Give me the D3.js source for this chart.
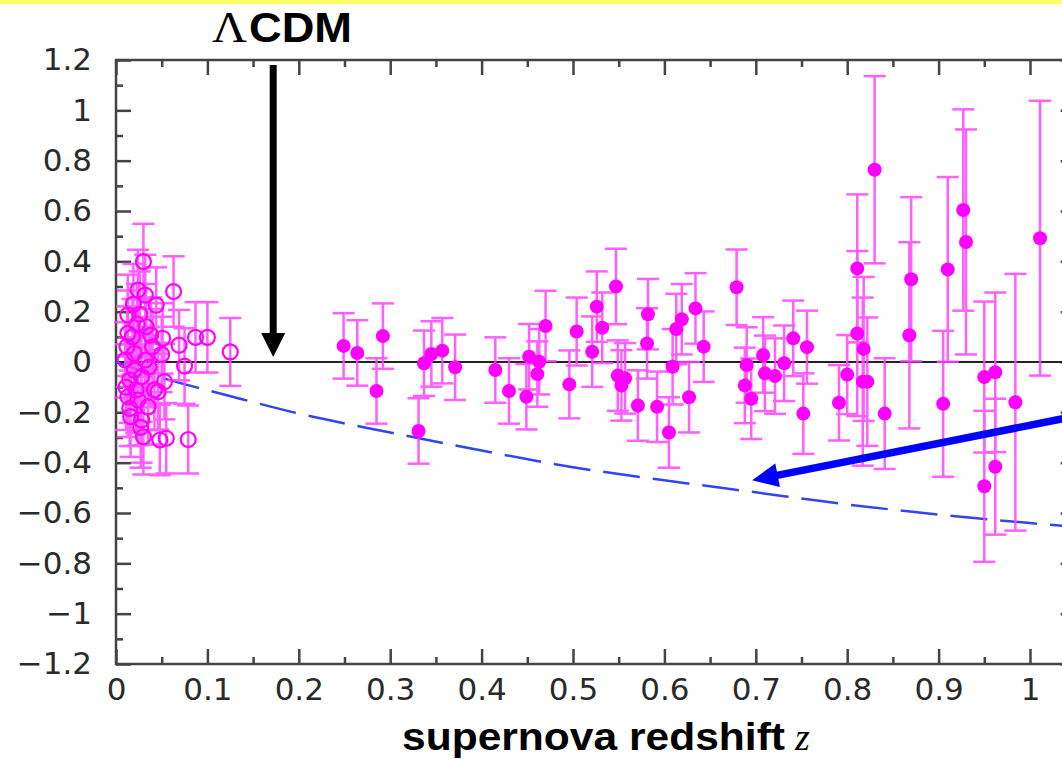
<!DOCTYPE html>
<html>
<head>
<meta charset="utf-8">
<script src="https://cdn.jsdelivr.net/npm/d3@7"></script>
<style>
  html, body { margin: 0; padding: 0; background: #ffffff; }
  svg { display: block; }
</style>
</head>
<body>
<script>
// ---------------- data ----------------
// low-redshift supernovae (open circles)
const lowZ   = [0.030, 0.063, 0.044, 0.024, 0.013, 0.051, 0.038, 0.069, 0.013, 0.012,
                0.020, 0.032, 0.015, 0.053, 0.042, 0.013, 0.024, 0.015, 0.028, 0.030,
                0.048, 0.055, 0.020, 0.028, 0.032, 0.033, 0.010, 0.022, 0.035, 0.016,
                0.125, 0.100, 0.087, 0.075, 0.079, 0.046, 0.026, 0.018, 0.036, 0.050,
                0.019, 0.027, 0.040, 0.011, 0.023];
const lowVal = [0.399, 0.280, 0.226, 0.286, 0.187, 0.094, 0.107, 0.067, 0.114, 0.061,
                0.034, 0.008, -0.072, -0.078, -0.111, -0.138, -0.151, -0.184, -0.230, -0.297,
                -0.310, -0.303, -0.032, -0.058, 0.266, 0.140, 0.008, -0.111, -0.178, -0.217,
                0.040, 0.098, 0.098, -0.016, -0.308, -0.118, 0.190, 0.100, -0.020, 0.030,
                0.230, -0.260, 0.060, -0.100, 0.150];
const lowErr = [0.15, 0.14, 0.15, 0.16, 0.16, 0.14, 0.15, 0.14, 0.17, 0.16,
                0.18, 0.17, 0.17, 0.15, 0.16, 0.16, 0.18, 0.15, 0.17, 0.15,
                0.14, 0.14, 0.16, 0.18, 0.16, 0.17, 0.15, 0.17, 0.15, 0.16,
                0.135, 0.14, 0.14, 0.15, 0.135, 0.15, 0.17, 0.15, 0.16, 0.15,
                0.16, 0.16, 0.15, 0.17, 0.16];

// high-redshift supernovae (filled circles)
const hiZ   = [0.249, 0.264, 0.292, 0.285, 0.331, 0.337, 0.345, 0.357, 0.371,
               0.415, 0.430, 0.449, 0.452, 0.461, 0.463, 0.470, 0.496, 0.504, 0.521,
               0.526, 0.532, 0.547, 0.549, 0.553, 0.557, 0.571, 0.582, 0.581, 0.592,
               0.605, 0.609, 0.613, 0.619, 0.627, 0.634, 0.643, 0.679, 0.690, 0.688,
               0.695, 0.708, 0.710, 0.721, 0.731, 0.741, 0.752, 0.756, 0.791, 0.800,
               0.811, 0.811, 0.818, 0.817, 0.822, 0.830, 0.841, 0.870, 0.868, 0.910,
               0.905, 0.927, 0.930, 0.950, 0.962, 0.950, 0.962, 0.984, 1.011];
const hiVal = [0.064, 0.036, 0.103, -0.115, -0.274, -0.005, 0.032, 0.045, -0.021,
               -0.032, -0.115, -0.138, 0.021, -0.048, 0.001, 0.143, -0.089, 0.121, 0.041,
               0.220, 0.136, 0.300, -0.054, -0.093, -0.065, -0.173, 0.190, 0.074, -0.178,
               -0.280, -0.019, 0.131, 0.170, -0.140, 0.213, 0.061, 0.297, -0.012, -0.093,
               -0.146, 0.028, -0.045, -0.056, -0.005, 0.094, -0.205, 0.059, -0.162, -0.050,
               0.372, 0.113, 0.052, -0.078, -0.078, 0.764, -0.205, 0.329, 0.106, 0.368,
               -0.166, 0.604, 0.477, -0.060, -0.041, -0.494, -0.416, -0.160, 0.492];
const hiErr = [0.13, 0.13, 0.13, 0.13, 0.13, 0.13, 0.13, 0.13, 0.13,
               0.13, 0.13, 0.13, 0.13, 0.13, 0.13, 0.14, 0.135, 0.135, 0.14,
               0.14, 0.14, 0.15, 0.14, 0.14, 0.14, 0.14, 0.14, 0.14, 0.14,
               0.14, 0.15, 0.14, 0.14, 0.14, 0.14, 0.14, 0.15, 0.15, 0.15,
               0.16, 0.15, 0.15, 0.15, 0.15, 0.15, 0.16, 0.145, 0.15, 0.157,
               0.294, 0.328, 0.286, 0.334, 0.255, 0.372, 0.22, 0.326, 0.37, 0.367,
               0.29, 0.40, 0.447, 0.30, 0.317, 0.30, 0.27, 0.51, 0.546];

// dashed comparison curve
const curveZ   = [0, 0.055, 0.10, 0.14, 0.20, 0.30, 0.40, 0.50, 0.60, 0.70, 0.80, 0.90, 1.00, 1.05];
const curveVal = [0, -0.068, -0.112, -0.150, -0.205, -0.280, -0.352, -0.418, -0.470, -0.518, -0.566, -0.606, -0.640, -0.655];

// axes
const xMajorTicks  = [0, 0.1, 0.2, 0.3, 0.4, 0.5, 0.6, 0.7, 0.8, 0.9, 1.0];
const xTickLabels  = ["0", "0.1", "0.2", "0.3", "0.4", "0.5", "0.6", "0.7", "0.8", "0.9", "1"];
const xMinorTicks  = [0.05, 0.15, 0.25, 0.35, 0.45, 0.55, 0.65, 0.75, 0.85, 0.95, 1.05];
const yMajorTicks  = [-1.2, -1.0, -0.8, -0.6, -0.4, -0.2, 0, 0.2, 0.4, 0.6, 0.8, 1.0, 1.2];
const yTickLabels  = ["\u22121.2", "\u22121", "\u22120.8", "\u22120.6", "\u22120.4", "\u22120.2", "0",
                      "0.2", "0.4", "0.6", "0.8", "1", "1.2"];
const yMinorTicks  = [-1.1, -0.9, -0.7, -0.5, -0.3, -0.1, 0.1, 0.3, 0.5, 0.7, 0.9, 1.1];

const xTitle = "supernova redshift";
const xTitleVar = "z";
const annoLambda = "\u039B";
const annoCDM = "CDM";

// ---------------- drawing ----------------
const W = 1062, H = 759;
const svg = d3.select("body").append("svg").attr("width", W).attr("height", H);
svg.append("rect").attr("width", W).attr("height", H).attr("fill", "#ffffff");
svg.append("rect").attr("x", 0).attr("y", 0).attr("width", W).attr("height", 4).attr("fill", "#ffff66");

const x = d3.scaleLinear().domain([0, 1.05]).range([116, 116 + 914 * 1.05]);
const y = d3.scaleLinear().domain([-1.2, 1.2]).range([664, 60]);

const axisColor = "#444";
const tickFont = "'DejaVu Sans', sans-serif";

function styleAxis(g) {
  g.select(".domain").remove();
  g.selectAll(".tick line").attr("stroke", axisColor).attr("stroke-width", 2.5);
  g.selectAll(".tick text").attr("fill", "#2a2a2a").attr("font-family", tickFont).attr("font-size", 31);
}

// bottom axis
svg.append("g").attr("transform", `translate(0,${y(-1.2)})`)
  .call(d3.axisBottom(x).tickValues(xMajorTicks).tickSize(-15).tickPadding(14)
    .tickFormat((d, i) => xTickLabels[i]))
  .call(styleAxis);
svg.append("g").attr("transform", `translate(0,${y(-1.2)})`)
  .call(d3.axisBottom(x).tickValues(xMinorTicks).tickSize(-7).tickFormat(""))
  .call(styleAxis);
// top axis
svg.append("g").attr("transform", `translate(0,${y(1.2)})`)
  .call(d3.axisTop(x).tickValues(xMajorTicks).tickSize(-15).tickFormat(""))
  .call(styleAxis);
svg.append("g").attr("transform", `translate(0,${y(1.2)})`)
  .call(d3.axisTop(x).tickValues(xMinorTicks).tickSize(-7).tickFormat(""))
  .call(styleAxis);
// left axis
svg.append("g").attr("transform", `translate(${x(0)},0)`)
  .call(d3.axisLeft(y).tickValues(yMajorTicks).tickSize(-15).tickPadding(24)
    .tickFormat((d, i) => yTickLabels[i]))
  .call(styleAxis);
svg.append("g").attr("transform", `translate(${x(0)},0)`)
  .call(d3.axisLeft(y).tickValues(yMinorTicks).tickSize(-7).tickFormat(""))
  .call(styleAxis);
// right axis
svg.append("g").attr("transform", `translate(${x(1.05)},0)`)
  .call(d3.axisRight(y).tickValues(yMajorTicks).tickSize(-15).tickFormat(""))
  .call(styleAxis);
svg.append("g").attr("transform", `translate(${x(1.05)},0)`)
  .call(d3.axisRight(y).tickValues(yMinorTicks).tickSize(-7).tickFormat(""))
  .call(styleAxis);

// frame
svg.append("rect")
  .attr("x", x(0)).attr("y", y(1.2))
  .attr("width", x(1.05) - x(0)).attr("height", y(-1.2) - y(1.2))
  .attr("fill", "none").attr("stroke", axisColor).attr("stroke-width", 2.5);

// zero (LambdaCDM) line
svg.append("line")
  .attr("x1", x(0)).attr("x2", x(1.05)).attr("y1", y(0)).attr("y2", y(0))
  .attr("stroke", "#222").attr("stroke-width", 2);

// dashed model curve
const curvePts = curveZ.map((z, i) => [z, curveVal[i]]);
svg.append("path")
  .datum(curvePts)
  .attr("d", d3.line().x(d => x(d[0])).y(d => y(d[1])).curve(d3.curveMonotoneX))
  .attr("fill", "none").attr("stroke", "#3344ee").attr("stroke-width", 2.5)
  .attr("stroke-dasharray", "37,13");

// data helpers
const low = lowZ.map((z, i) => ({ z, v: lowVal[i], e: lowErr[i] }));
const hi  = hiZ.map((z, i) => ({ z, v: hiVal[i], e: hiErr[i] }));

const errColor = "#ff44ff";
const cap = 11;
function drawErr(g, data) {
  const eg = g.append("g").attr("stroke", errColor).attr("stroke-width", 2.5).attr("opacity", 0.85);
  eg.selectAll("line.v").data(data).join("line").attr("class", "v")
    .attr("x1", d => x(d.z)).attr("x2", d => x(d.z))
    .attr("y1", d => y(d.v + d.e)).attr("y2", d => y(d.v - d.e));
  eg.selectAll("line.t").data(data).join("line").attr("class", "t")
    .attr("x1", d => x(d.z) - cap).attr("x2", d => x(d.z) + cap)
    .attr("y1", d => y(d.v + d.e)).attr("y2", d => y(d.v + d.e));
  eg.selectAll("line.b").data(data).join("line").attr("class", "b")
    .attr("x1", d => x(d.z) - cap).attr("x2", d => x(d.z) + cap)
    .attr("y1", d => y(d.v - d.e)).attr("y2", d => y(d.v - d.e));
}
const dataG = svg.append("g");
drawErr(dataG, low);
drawErr(dataG, hi);

dataG.append("g").selectAll("circle").data(low).join("circle")
  .attr("cx", d => x(d.z)).attr("cy", d => y(d.v)).attr("r", 7.5)
  .attr("fill", "none").attr("stroke", "#ff00ff").attr("stroke-width", 2.2);
dataG.append("g").selectAll("circle").data(hi).join("circle")
  .attr("cx", d => x(d.z)).attr("cy", d => y(d.v)).attr("r", 7)
  .attr("fill", "#ff00ff");

// arrows (annotations positioned in data units)
function arrow(from, to, color, width, headLen, headHalf) {
  const x1 = x(from[0]), y1 = y(from[1]), x2 = x(to[0]), y2 = y(to[1]);
  const dx = x2 - x1, dy = y2 - y1, L = Math.hypot(dx, dy);
  const ux = dx / L, uy = dy / L, px = -uy, py = ux;
  const bx = x2 - ux * headLen, by = y2 - uy * headLen;
  svg.append("line").attr("x1", x1).attr("y1", y1).attr("x2", bx + ux * 2).attr("y2", by + uy * 2)
    .attr("stroke", color).attr("stroke-width", width);
  svg.append("path")
    .attr("d", `M${x2},${y2}L${bx + px * headHalf},${by + py * headHalf}L${bx - px * headHalf},${by - py * headHalf}Z`)
    .attr("fill", color);
}
arrow([0.172, 1.18], [0.172, 0.02], "#000000", 7, 24, 12);
arrow([1.05, -0.215], [0.696, -0.47], "#0000ff", 7.5, 26, 12);

// texts
svg.append("text").attr("x", 212).attr("y", 42)
  .attr("font-family", "'Liberation Serif', serif").attr("font-size", 44)
  .attr("textLength", 35).attr("lengthAdjust", "spacingAndGlyphs")
  .attr("fill", "#000").text(annoLambda);
svg.append("text").attr("x", 249).attr("y", 42)
  .attr("font-family", "'Liberation Sans', Arial, sans-serif").attr("font-weight", "bold").attr("font-size", 42)
  .attr("textLength", 103).attr("lengthAdjust", "spacingAndGlyphs")
  .attr("fill", "#000").text(annoCDM);

svg.append("text").attr("x", 402).attr("y", 750)
  .attr("font-family", "'Liberation Sans', Arial, sans-serif").attr("font-weight", "bold").attr("font-size", 39)
  .attr("textLength", 383).attr("lengthAdjust", "spacingAndGlyphs")
  .attr("fill", "#000").text(xTitle);
svg.append("text").attr("x", 795).attr("y", 750)
  .attr("font-family", "'Liberation Serif', serif").attr("font-style", "italic").attr("font-size", 38)
  .attr("fill", "#000").text(xTitleVar);
</script>
</body>
</html>
